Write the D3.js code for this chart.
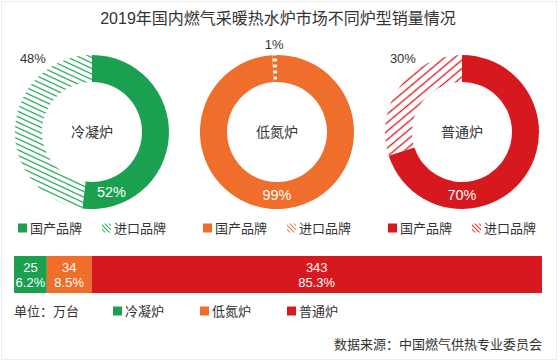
<!DOCTYPE html>
<html>
<head>
<meta charset="utf-8">
<script src="https://cdn.jsdelivr.net/npm/d3@7"></script>
<style>
  body { margin: 0; background: #fff; }
  text { font-family: "Liberation Sans", "Noto Sans CJK SC", sans-serif; }
</style>
</head>
<body>
<div id="chart"></div>
<script>
const types = ['冷凝炉', '低氮炉', '普通炉'];
const domesticShare = [52, 99, 70];
const importShare = [48, 1, 30];
const brands = ['国产品牌', '进口品牌'];
const sales = [25, 34, 343];
const salesShare = ['6.2%', '8.5%', '85.3%'];

const width = 560;
const height = 361;
const colors = ['#1aa04f', '#ef6e2b', '#d6191f'];
const hatchAngle = [25, 0, -40];

const svg = d3.select('#chart').append('svg')
  .attr('width', width)
  .attr('height', height);

svg.append('rect')
  .attr('x', 1.5).attr('y', 1.5)
  .attr('width', width - 5).attr('height', height - 3)
  .attr('fill', '#fff')
  .attr('stroke', '#ececec');

const defs = svg.append('defs');

const hatch = (id, color, angle, gap, w) => {
  const p = defs.append('pattern')
    .attr('id', id)
    .attr('patternUnits', 'userSpaceOnUse')
    .attr('width', gap)
    .attr('height', gap)
    .attr('patternTransform', `rotate(${angle})`);
  p.append('line')
    .attr('x1', -1).attr('y1', gap / 2)
    .attr('x2', gap + 1).attr('y2', gap / 2)
    .attr('stroke', color)
    .attr('stroke-width', w);
};

hatch('h0', colors[0], hatchAngle[0], 5, 1.2);
hatch('h1', colors[1], hatchAngle[1], 6, 3.2);
hatch('h2', colors[2], hatchAngle[2], 6.5, 1.3);
colors.forEach((c, i) => hatch(`lg${i}`, c, 45, 3, 0.9));

// title
svg.append('text')
  .attr('x', 278)
  .attr('y', 18)
  .attr('text-anchor', 'middle')
  .attr('dominant-baseline', 'central')
  .attr('fill', '#333')
  .style('font-size', '16px')
  .text('2019年国内燃气采暖热水炉市场不同炉型销量情况');

// donuts
const cx = d3.scalePoint().domain(types).range([92, 462]);
const cy = 132;
const inner = 50;
const outer = 77;

const pie = d3.pie().sort(null).value(d => d);
const arc = d3.arc().innerRadius(inner).outerRadius(outer);
const labelArc = d3.arc().innerRadius(63).outerRadius(63);

types.forEach((t, i) => {
  const g = svg.append('g')
    .attr('transform', `translate(${cx(t)},${cy})`);

  const slices = pie([domesticShare[i], importShare[i]]);

  g.selectAll('path')
    .data(slices)
    .join('path')
    .attr('d', arc)
    .attr('fill', (d, j) => (j === 0 ? colors[i] : `url(#h${i})`));

  g.append('text')
    .attr('text-anchor', 'middle')
    .attr('dominant-baseline', 'central')
    .attr('fill', '#333')
    .style('font-size', '14px')
    .text(t);

  // domestic share, inside the band near the bottom
  const dom = slices[0];
  const a1 = Math.min(Math.PI, dom.endAngle - 0.44);
  const p1 = labelArc.centroid({ startAngle: a1, endAngle: a1 });
  g.append('text')
    .attr('x', p1[0])
    .attr('y', p1[1])
    .attr('text-anchor', 'middle')
    .attr('dominant-baseline', 'central')
    .attr('fill', '#fff')
    .style('font-size', '14.5px')
    .text(`${domesticShare[i]}%`);

  // import share, outside top-left
  const imp = slices[1];
  const mid = (imp.startAngle + imp.endAngle) / 2 - 2 * Math.PI;
  const a2 = Math.max(mid, -0.68);
  const r2 = mid > -0.2 ? 88 : 94;
  g.append('text')
    .attr('x', Math.sin(a2) * r2)
    .attr('y', -Math.cos(a2) * r2)
    .attr('text-anchor', 'middle')
    .attr('dominant-baseline', 'central')
    .attr('fill', '#333')
    .style('font-size', '13px')
    .text(`${importShare[i]}%`);

  // legend under each donut
  const lg = svg.append('g')
    .attr('transform', `translate(${cx(t) - 74},228)`);
  brands.forEach((b, j) => {
    lg.append('rect')
      .attr('x', j * 84)
      .attr('y', -4.5)
      .attr('width', 9)
      .attr('height', 9)
      .attr('fill', j === 0 ? colors[i] : `url(#lg${i})`);
    lg.append('text')
      .attr('x', j * 84 + 12)
      .attr('dominant-baseline', 'central')
      .attr('fill', '#333')
      .style('font-size', '13px')
      .text(b);
  });
});

// stacked bar
const x = d3.scaleLinear()
  .domain([0, d3.sum(sales)])
  .range([14, 542]);
const starts = d3.cumsum([0, ...sales]);

const bar = svg.append('g');
bar.selectAll('rect')
  .data(sales)
  .join('rect')
  .attr('x', (d, i) => x(starts[i]))
  .attr('y', 256)
  .attr('width', d => x(d) - x(0))
  .attr('height', 37)
  .attr('fill', (d, i) => colors[i]);

const lbl = bar.selectAll('text.v')
  .data(sales)
  .join('text')
  .attr('class', 'v')
  .attr('text-anchor', 'middle')
  .attr('fill', '#fff')
  .style('font-size', '13px');
lbl.append('tspan')
  .attr('x', (d, i) => x(starts[i] + d / 2))
  .attr('y', 272)
  .text(d => d);
lbl.append('tspan')
  .attr('x', (d, i) => x(starts[i] + d / 2))
  .attr('y', 287)
  .text((d, i) => salesShare[i]);

// bottom legend
svg.append('text')
  .attr('x', 14)
  .attr('y', 311)
  .attr('dominant-baseline', 'central')
  .attr('fill', '#333')
  .style('font-size', '13px')
  .text('单位：万台');

const bl = d3.scalePoint().domain(types).range([113, 287]);
types.forEach((t, i) => {
  svg.append('rect')
    .attr('x', bl(t))
    .attr('y', 311 - 4.5)
    .attr('width', 9)
    .attr('height', 9)
    .attr('fill', colors[i]);
  svg.append('text')
    .attr('x', bl(t) + 12)
    .attr('y', 311)
    .attr('dominant-baseline', 'central')
    .attr('fill', '#333')
    .style('font-size', '13px')
    .text(t);
});

svg.append('text')
  .attr('x', 542)
  .attr('y', 344)
  .attr('text-anchor', 'end')
  .attr('dominant-baseline', 'central')
  .attr('fill', '#333')
  .style('font-size', '13px')
  .text('数据来源：中国燃气供热专业委员会');
</script>
</body>
</html>
